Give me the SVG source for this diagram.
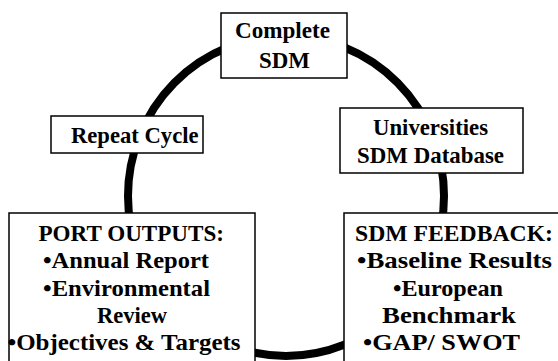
<svg xmlns="http://www.w3.org/2000/svg" width="558" height="361" viewBox="0 0 558 361">
<style>
.box{fill:#fff;stroke:#000;stroke-width:1.5}
.t{font-family:'Liberation Serif','Times New Roman','DejaVu Serif',serif;font-weight:700;font-size:23px;fill:#000}
.cyc{fill:none;stroke:#000;stroke-width:8}
</style>
<rect width="558" height="361" fill="#fff"/>
<g id="connectors">
<ellipse class="cyc" cx="286" cy="196" rx="158" ry="160"/>
</g>
<g id="complete">
<rect class="box" x="221" y="13" width="126" height="65"/>
<text class="t" x="235" y="38" textLength="95" lengthAdjust="spacingAndGlyphs">Complete</text>
<text class="t" x="259" y="68" textLength="51" lengthAdjust="spacingAndGlyphs">SDM</text>
</g>
<g id="repeat">
<rect class="box" x="51" y="116" width="152" height="37"/>
<text class="t" x="71" y="143" textLength="127.5" lengthAdjust="spacingAndGlyphs">Repeat Cycle</text>
</g>
<g id="universities">
<rect class="box" x="340" y="108" width="183" height="65"/>
<text class="t" x="373" y="135" textLength="115" lengthAdjust="spacingAndGlyphs">Universities</text>
<text class="t" x="357" y="163" textLength="147" lengthAdjust="spacingAndGlyphs">SDM Database</text>
</g>
<g id="port">
<rect class="box" x="9" y="213" width="246" height="160"/>
<text class="t" x="38.5" y="241" textLength="185.5" lengthAdjust="spacingAndGlyphs">PORT OUTPUTS:</text>
<text class="t" x="43" y="268" textLength="166" lengthAdjust="spacingAndGlyphs">•Annual Report</text>
<text class="t" x="43" y="296" textLength="167" lengthAdjust="spacingAndGlyphs">•Environmental</text>
<text class="t" x="97" y="323" textLength="70" lengthAdjust="spacingAndGlyphs">Review</text>
<text class="t" x="7.5" y="350" textLength="233" lengthAdjust="spacingAndGlyphs">•Objectives &amp; Targets</text>
</g>
<g id="feedback">
<rect class="box" x="344" y="213" width="222" height="160"/>
<text class="t" x="355" y="241" textLength="198" lengthAdjust="spacingAndGlyphs">SDM FEEDBACK:</text>
<text class="t" x="357" y="268" textLength="195" lengthAdjust="spacingAndGlyphs">•Baseline Results</text>
<text class="t" x="393" y="296" textLength="110" lengthAdjust="spacingAndGlyphs">•European</text>
<text class="t" x="382" y="323" textLength="134" lengthAdjust="spacingAndGlyphs">Benchmark</text>
<text class="t" x="363" y="350" textLength="157" lengthAdjust="spacingAndGlyphs">•GAP/ SWOT</text>
</g>
</svg>
